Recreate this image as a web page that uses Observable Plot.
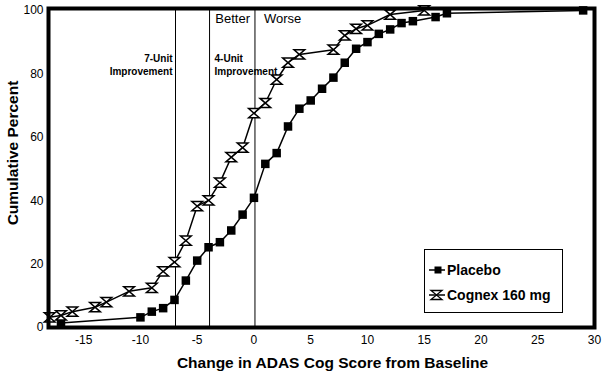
<!DOCTYPE html>
<html><head><meta charset="utf-8">
<script src="https://cdn.jsdelivr.net/npm/d3@7"></script>
<script src="https://cdn.jsdelivr.net/npm/@observablehq/plot@0.6"></script>
<style>
body{margin:0;background:#fff;}
#wrap{position:relative;width:607px;height:374px;font-family:"Liberation Sans",Arial,sans-serif;}
#legend{position:absolute;left:424px;top:249px;width:137px;height:62px;border:1px solid #000;background:#fff;}
.row{position:absolute;left:3px;height:20px;display:flex;align-items:center;font-weight:bold;font-size:14px;color:#000;white-space:nowrap;}
.row svg{margin-right:1px;}
</style></head><body><div id="wrap"></div>
<script>
// Data
const placeboX = [-17,-10,-9,-8,-7,-6,-5,-4,-3,-2,-1,0,1,2,3,4,5,6,7,8,9,10,11,12,13,14,16,17,29];
const placeboY = [1.4,3.2,5.0,6.1,8.7,14.8,21.1,25.3,26.9,30.6,35.6,40.9,51.6,55.0,63.4,69.0,71.6,75.3,78.8,83.5,87.9,90.0,92.6,94.0,96.0,96.6,97.9,99.1,100];
const cognexX = [-18,-17,-16,-14,-13,-11,-9,-8,-7,-6,-5,-4,-3,-2,-1,0,1,2,3,4,7,8,9,10,12,15];
const cognexY = [3.2,3.8,5.0,6.4,8.0,11.4,12.5,17.7,20.6,27.4,38.3,40.1,45.7,53.7,56.7,67.6,70.8,78.2,83.5,86.1,87.6,92.1,94.2,95.3,98.7,100];
const seriesNames = ["Placebo", "Cognex 160 mg"];
const xTicks = [-15,-10,-5,0,5,10,15,20,25,30];
const yTicks = [0,20,40,60,80,100];
const thresholdX = [-7,-4,0];
const improvementLabels = ["7-Unit\nImprovement", "4-Unit\nImprovement"];
const directionLabels = ["Better", "Worse"];
const xLabel = "Change in ADAS Cog Score from Baseline";
const yLabel = "Cumulative Percent";

const placebo = placeboX.map((x,i)=>({x, y: placeboY[i]}));
const cognex = cognexX.map((x,i)=>({x, y: cognexY[i]}));

const hourglass = {
  draw(context, size) {
    const s = Math.sqrt(size);
    const w = s * 0.6, h = s * 0.52;
    context.moveTo(-w, -h);
    context.lineTo(w, -h);
    context.lineTo(-w, h);
    context.lineTo(w, h);
    context.closePath();
  }
};

const font = "Liberation Sans, Arial, sans-serif";

const chart = Plot.plot({
  width: 607, height: 374,
  marginLeft: 48, marginRight: 13, marginTop: 8, marginBottom: 47,
  style: {fontFamily: font, background: "#fff", color: "#000", overflow: "visible"},
  x: {domain: [-18.1, 30], ticks: xTicks},
  y: {domain: [0, 100.6], ticks: yTicks},
  marks: [
    Plot.axisX({ticks: xTicks, tickSize: 0, tickPadding: 8, fontSize: 12, label: null, tickFormat: d => d < 0 ? "-" + Math.abs(d) : String(d)}),
    Plot.axisY({ticks: yTicks, tickSize: 0, tickPadding: 5, fontSize: 12, label: null}),
    Plot.ruleX(thresholdX, {stroke: "#000", strokeWidth: 1, dx: 1}),
    Plot.line(placebo, {x: "x", y: "y", stroke: "#000", strokeWidth: 1.5}),
    Plot.line(cognex, {x: "x", y: "y", stroke: "#000", strokeWidth: 1.5}),
    Plot.dot(placebo, {x: "x", y: "y", symbol: "square", r: 4.8, fill: "#000", stroke: "none"}),
    Plot.dot(cognex, {x: "x", y: "y", symbol: hourglass, r: 5, fill: "#fff", stroke: "#000", strokeWidth: 1.5}),
    Plot.frame({stroke: "#000", strokeWidth: 4}),
    Plot.text([improvementLabels[0]], {x: thresholdX[0], frameAnchor: "top", text: d => d, textAnchor: "end", lineAnchor: "top", dx: -2, dy: 44, fontSize: 10, fontWeight: "bold", lineHeight: 1.3}),
    Plot.text([improvementLabels[1]], {x: thresholdX[1], frameAnchor: "top", text: d => d, textAnchor: "start", lineAnchor: "top", dx: 6, dy: 44, fontSize: 10, fontWeight: "bold", lineHeight: 1.3}),
    Plot.text([directionLabels[0]], {x: thresholdX[2], frameAnchor: "top", text: d => d, textAnchor: "end", lineAnchor: "top", dx: -4, dy: 5, fontSize: 13}),
    Plot.text([directionLabels[1]], {x: thresholdX[2], frameAnchor: "top", text: d => d, textAnchor: "start", lineAnchor: "top", dx: 10, dy: 5, fontSize: 13}),
    Plot.text([xLabel], {frameAnchor: "bottom", text: d => d, textAnchor: "middle", lineAnchor: "middle", dx: 11, dy: 36, fontSize: 15.5, fontWeight: "bold"}),
    Plot.text([yLabel], {frameAnchor: "left", text: d => d, rotate: -90, textAnchor: "middle", lineAnchor: "middle", dx: -35, dy: -15, fontSize: 15.5, fontWeight: "bold"})
  ]
});

const wrap = document.getElementById("wrap");
wrap.appendChild(chart);

// Legend
const legend = document.createElement("div");
legend.id = "legend";
const markerSvg = [
  '<svg width="18" height="12" viewBox="0 0 18 12"><line x1="1" x2="17" y1="6" y2="6" stroke="#000" stroke-width="1.5"/><rect x="6.5" y="2.5" width="7" height="7" fill="#000"/></svg>',
  '<svg width="18" height="12" viewBox="0 0 18 12"><line x1="1" x2="17" y1="6" y2="6" stroke="#000" stroke-width="1.5"/><path d="M3,1.5L14,1.5L3,10.5L14,10.5Z" fill="#fff" stroke="#000" stroke-width="1.3"/></svg>'
];
const rowTops = [10, 35];
seriesNames.forEach((name, i) => {
  const row = document.createElement("div");
  row.className = "row";
  row.style.top = rowTops[i] + "px";
  row.innerHTML = markerSvg[i] + "<span>" + name + "</span>";
  legend.appendChild(row);
});
wrap.appendChild(legend);
</script>
</body></html>
